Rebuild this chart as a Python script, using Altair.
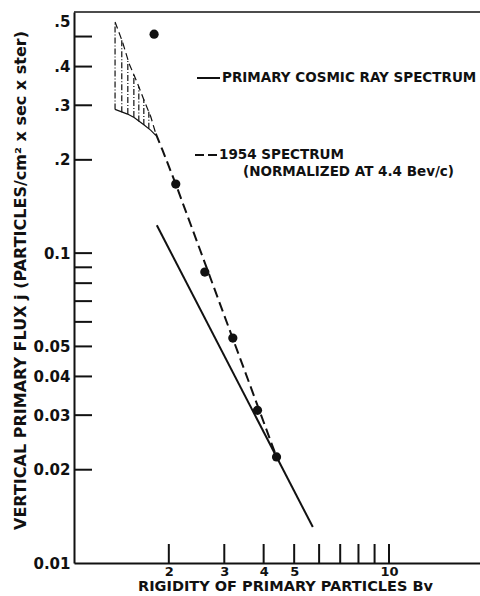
import altair as alt
import pandas as pd

# ---------------- data ----------------
x_label_values = [2, 3, 4, 5, 10]
x_label_texts = ["2", "3", "4", "5", "10"]
x_tick_values = [2, 3, 4, 5, 6, 7, 8, 9, 10]

y_label_values = [0.5, 0.4, 0.3, 0.2, 0.1, 0.05, 0.04, 0.03, 0.02, 0.01]
y_label_texts = [".5", ".4", ".3", ".2", "0.1", "0.05", "0.04", "0.03", "0.02", "0.01"]
y_tick_values = [0.5, 0.4, 0.3, 0.2, 0.1, 0.09, 0.08, 0.07, 0.06, 0.05, 0.04, 0.03, 0.02]

# measured points (1954 data)
dots_x = [1.796, 2.104, 2.602, 3.193, 3.824, 4.395]
dots_y = [0.509, 0.167, 0.0869, 0.0532, 0.0311, 0.0220]

# primary cosmic ray spectrum (solid line)
primary_x = [1.832, 5.73]
primary_y = [0.123, 0.01306]

# 1954 spectrum (dashed line)
spec_x = [1.818, 1.910, 2.104, 4.395]
spec_y = [0.243, 0.215, 0.167, 0.0220]

# hatched uncertainty band: upper (dashed) and lower (solid) envelopes
env_upper_x = [1.350, 1.426, 1.496, 1.591, 1.670, 1.754, 1.818]
env_upper_y = [0.557, 0.480, 0.409, 0.353, 0.311, 0.275, 0.243]
env_lower_x = [1.350, 1.479, 1.552, 1.670, 1.754, 1.818]
env_lower_y = [0.291, 0.281, 0.274, 0.259, 0.249, 0.240]

# vertical hatch strokes inside the band
hatch_x = [1.350, 1.418, 1.482, 1.549, 1.606, 1.666, 1.728]
hatch_lo = [0.291, 0.285, 0.281, 0.275, 0.266, 0.259, 0.252]
hatch_hi = [0.557, 0.487, 0.422, 0.376, 0.344, 0.313, 0.286]

legend_labels = ["PRIMARY COSMIC RAY SPECTRUM", "1954 SPECTRUM", "(NORMALIZED AT 4.4 Bev/c)"]

x_title = "RIGIDITY OF PRIMARY PARTICLES Bv"
y_title = "VERTICAL PRIMARY FLUX j (PARTICLES/cm\u00b2 x sec x ster)"

# ---------------- chart ----------------
W, H = 406, 551
INK = "#111111"
FONT = "DejaVu Sans"

xs = alt.Scale(type="log", domain=[1, 19.45], nice=False, zero=False)
ys = alt.Scale(type="log", domain=[0.01, 0.6], nice=False, zero=False)


def label_expr(values, texts):
    parts = [f"datum.value == {v} ? '{t}'" for v, t in zip(values, texts)]
    return " : ".join(parts) + " : ''"


x_axis = alt.Axis(
    values=x_label_values, labelExpr=label_expr(x_label_values, x_label_texts),
    ticks=False, tickSize=0, labelPadding=2, labelFont=FONT, labelFontSize=13,
    labelFontWeight="bold",
    labelColor=INK, labelFlush=False, labelOverlap=False, labelBaseline="top",
    domainColor=INK, domainWidth=2, grid=False,
    title=x_title, titleFont=FONT, titleFontSize=14.5, titleFontWeight="bold",
    titleColor=INK, titleX=211, titleY=23, titleBaseline="middle", titleAlign="center",
)
y_axis = alt.Axis(
    values=y_label_values, labelExpr=label_expr(y_label_values, y_label_texts),
    ticks=False, tickSize=0, labelPadding=4, labelFont=FONT, labelFontSize=15,
    labelFontWeight="bold",
    labelColor=INK, labelFlush=False, labelOverlap=False, labelBaseline="middle",
    labelOffset={"condition": {"test": "datum.value == 0.5", "value": -15}, "value": 0},
    domainColor=INK, domainWidth=2, grid=False,
    title=y_title, titleFont=FONT, titleFontSize=16, titleFontWeight="bold",
    titleColor=INK, titleAngle=270, titleX=-54, titleY=268,
    titleBaseline="middle", titleAlign="center",
)


def X(field):
    return alt.X(field, scale=xs, axis=x_axis)


def Y(field):
    return alt.Y(field, scale=ys, axis=y_axis)


dots_df = pd.DataFrame({"x": dots_x, "y": dots_y})
dots = alt.Chart(dots_df).mark_circle(size=85, color=INK, opacity=1).encode(
    x=X("x:Q"), y=Y("y:Q"),
)


def line_layer(xv, yv, **mk):
    df = pd.DataFrame({"x": xv, "y": yv, "i": list(range(len(xv)))})
    return alt.Chart(df).mark_line(color=INK, **mk).encode(
        x=X("x:Q"), y=Y("y:Q"), order="i:Q",
    )


primary = line_layer(primary_x, primary_y, strokeWidth=2)
spec = line_layer(spec_x, spec_y, strokeWidth=2, strokeDash=[10, 5])
env_up = line_layer(env_upper_x, env_upper_y, strokeWidth=1.2, strokeDash=[7, 4])
env_lo = line_layer(env_lower_x, env_lower_y, strokeWidth=1.2)

hatch_df = pd.DataFrame({"x": hatch_x, "y": hatch_lo, "hi": hatch_hi})
hatch = alt.Chart(hatch_df).mark_rule(color=INK, strokeWidth=1.2, strokeDash=[6, 2, 1, 2]).encode(
    x=X("x:Q"), y=Y("y:Q"), y2="hi:Q",
)

yticks = alt.Chart(pd.DataFrame({"y": y_tick_values})).mark_rule(color=INK, strokeWidth=2).encode(
    y=Y("y:Q"), x=alt.value(0), x2=alt.value(18)
)
xticks = alt.Chart(pd.DataFrame({"x": x_tick_values})).mark_rule(color=INK, strokeWidth=2).encode(
    x=X("x:Q"), y=alt.value(H - 19), y2=alt.value(H)
)

one = pd.DataFrame({"a": [0]})
top_border = alt.Chart(one).mark_rule(color=INK, strokeWidth=1.6).encode(
    x=alt.value(0), x2=alt.value(W), y=alt.value(0)
)

leg_solid = alt.Chart(one).mark_rule(color=INK, strokeWidth=2).encode(
    x=alt.value(123), x2=alt.value(146), y=alt.value(66)
)
leg_dash = alt.Chart(one).mark_rule(color=INK, strokeWidth=2, strokeDash=[9, 4]).encode(
    x=alt.value(121), x2=alt.value(143), y=alt.value(143)
)


def text_layer(label, px, py):
    return alt.Chart(pd.DataFrame({"t": [label]})).mark_text(
        font=FONT, fontSize=13.5, fontWeight="bold", color=INK, align="left", baseline="middle"
    ).encode(x=alt.value(px), y=alt.value(py), text="t:N")


t1 = text_layer(legend_labels[0], 148, 66)
t2 = text_layer(legend_labels[1], 145, 143)
t3 = text_layer(legend_labels[2], 169, 160)

chart = alt.layer(
    dots, primary, spec, env_up, env_lo, hatch, yticks, xticks, top_border,
    leg_solid, leg_dash, t1, t2, t3,
).properties(
    width=W, height=H,
    autosize=alt.AutoSizeParams(type="none"),
    padding={"left": 74, "top": 12, "right": 0, "bottom": 33},
    background="white",
).configure_view(stroke=None)

chart.save("out.html", embed_options={"renderer": "svg", "actions": False})
